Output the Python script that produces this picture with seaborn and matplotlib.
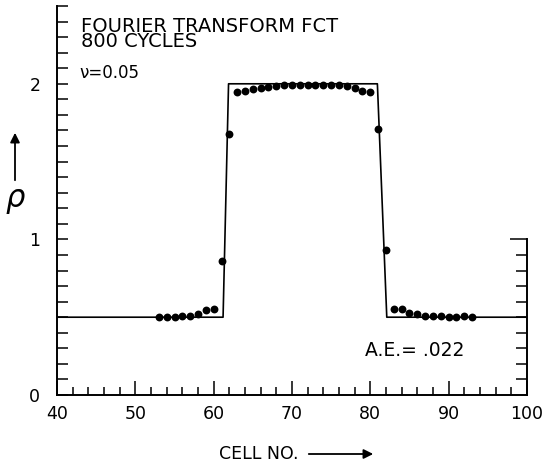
import numpy as np
import matplotlib
matplotlib.use("Agg")
import matplotlib.pyplot as plt
import seaborn as sns
from matplotlib.ticker import MultipleLocator, FixedLocator

# ---- data ----
cells = list(range(53, 94))
rho = [0.50, 0.50, 0.50, 0.505, 0.51, 0.52, 0.545, 0.55,   # 53-60
       0.86, 1.68,                                          # 61-62
       1.95, 1.955, 1.965, 1.975, 1.98, 1.985, 1.99, 1.99, 1.995,
       1.995, 1.995, 1.995, 1.99, 1.99, 1.985, 1.975, 1.955, 1.95,  # 63-80
       1.71, 0.93,                                          # 81-82
       0.55, 0.55, 0.525, 0.52, 0.51, 0.505, 0.505, 0.50, 0.50, 0.505, 0.50]  # 83-93

exact_x = [40, 61.2, 61.9, 80.9, 82.1, 100]
exact_rho = [0.5, 0.5, 2.0, 2.0, 0.5, 0.5]

x_ticks = [40, 50, 60, 70, 80, 90, 100]
y_ticks = [0, 1, 2]

title_lines = ["FOURIER TRANSFORM FCT", "800 CYCLES"]
nu_text = "\u03bd=0.05"
ae_text = "A.E.= .022"

# ---- style ----
sns.set_style("ticks")
plt.rcParams['font.family'] = ['DejaVu Sans']
plt.rcParams['text.color'] = 'black'
plt.rcParams['xtick.color'] = 'black'
plt.rcParams['ytick.color'] = 'black'
plt.rcParams['xtick.labelcolor'] = 'black'
plt.rcParams['ytick.labelcolor'] = 'black'

W, H = 548, 462
fig = plt.figure(figsize=(W / 100, H / 100), dpi=100)
ax = fig.add_axes([57 / W, 67 / H, 470 / W, 389 / H])

sns.lineplot(x=exact_x, y=exact_rho, sort=False, estimator=None,
             color='black', linewidth=1.2, ax=ax)
sns.scatterplot(x=cells, y=rho, color='black', s=32, linewidth=0,
                ax=ax, zorder=3)

ax.set_xlim(40, 100)
ax.set_ylim(0, 2.5)
ax.set_xlabel("")
ax.set_ylabel("")

for s in ['top', 'right']:
    ax.spines[s].set_visible(False)
for s in ['left', 'bottom']:
    ax.spines[s].set_linewidth(1.4)
    ax.spines[s].set_color('black')

ax.set_xticks(x_ticks)
ax.set_xticklabels([str(v) for v in x_ticks])
ax.xaxis.set_minor_locator(MultipleLocator(2))
ax.set_yticks(y_ticks)
ax.set_yticklabels([str(v) for v in y_ticks])
ax.yaxis.set_minor_locator(MultipleLocator(0.1))

ax.tick_params(axis='x', which='major', direction='in', length=10, width=1.1,
               pad=7, labelsize=12.5)
ax.tick_params(axis='x', which='minor', direction='in', length=6, width=1.1)
ax.tick_params(axis='y', which='major', direction='in', length=8, width=1.1,
               pad=12, labelsize=12.5)
ax.tick_params(axis='y', which='minor', direction='in', length=8, width=1.1)

# right partial spine (0..1)
ax2 = ax.twinx()
ax2.set_ylim(0, 2.5)
for s in ['top', 'left', 'bottom']:
    ax2.spines[s].set_visible(False)
ax2.spines['right'].set_bounds(0, 1)
ax2.spines['right'].set_linewidth(1.4)
ax2.spines['right'].set_color('black')
ax2.set_yticks([1.0])
ax2.set_yticklabels([])
ax2.yaxis.set_minor_locator(FixedLocator(np.arange(0.1, 1.0, 0.1)))
ax2.tick_params(axis='y', which='major', direction='in', length=12, width=1.1)
ax2.tick_params(axis='y', which='minor', direction='in', length=8, width=1.1)
ax2.grid(False)

# annotations (figure pixels, y from bottom)
fig.text(81 / W, (H - 47) / H, "\n".join(title_lines), fontsize=14,
         va='baseline', ha='left', linespacing=0.72, color='black')
fig.text(79 / W, (H - 78) / H, nu_text, fontsize=12, va='baseline',
         ha='left', color='black')
fig.text(365 / W, (H - 356) / H, ae_text, fontsize=13.5, va='baseline',
         ha='left', color='black')

# y label: rho with up arrow
fig.text(15 / W, (H - 200) / H, "\u03c1", fontsize=22, style='italic',
         ha='center', va='center', color='black')
ax.annotate("", xy=(15, H - 130), xytext=(15, H - 183),
            xycoords='figure pixels', textcoords='figure pixels',
            arrowprops=dict(arrowstyle='-|>', color='black', lw=1.3,
                            mutation_scale=14))

# x label with right arrow
fig.text(219 / W, (H - 459) / H, "CELL NO.", fontsize=12.5, va='baseline',
         ha='left', color='black')
ax.annotate("", xy=(376, H - 454), xytext=(306, H - 454),
            xycoords='figure pixels', textcoords='figure pixels',
            arrowprops=dict(arrowstyle='-|>', color='black', lw=1.3,
                            mutation_scale=14))

fig.savefig("out.png", dpi=100)
